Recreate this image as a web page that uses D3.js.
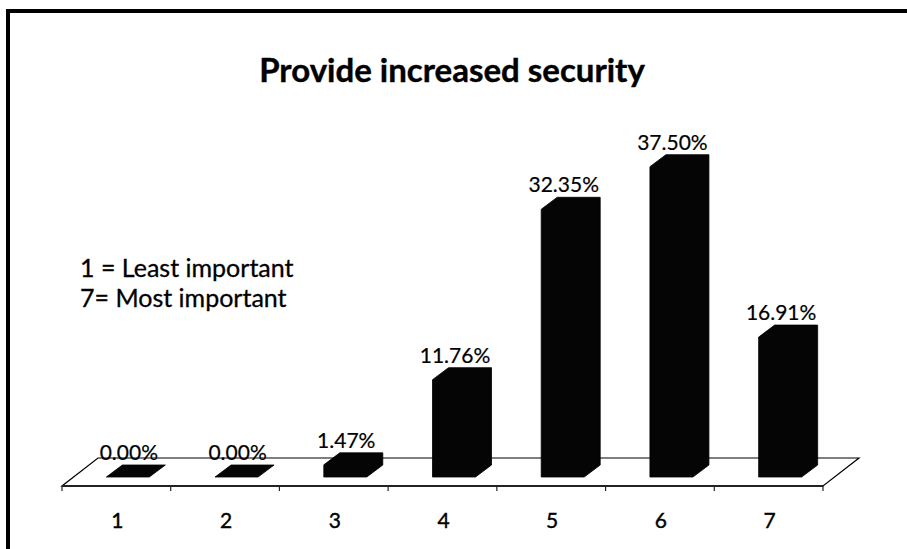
<!DOCTYPE html>
<html>
<head>
<meta charset="utf-8">
<script src="https://cdn.jsdelivr.net/npm/d3@7"></script>
<style>
  html, body { margin: 0; padding: 0; background: #fff; }
  svg { display: block; }
</style>
</head>
<body>
<svg id="chart" width="907" height="549"></svg>
<script>
// ---- data ----
const categories = ["1", "2", "3", "4", "5", "6", "7"];
const values = [0.00, 0.00, 1.47, 11.76, 32.35, 37.50, 16.91];
const valueLabels = ["0.00%", "0.00%", "1.47%", "11.76%", "32.35%", "37.50%", "16.91%"];
const titleText = "Provide increased security";
const noteLines = ["1 = Least important", "7= Most important"];

const svg = d3.select("#chart");
const FONT = "Lato, 'Open Sans', sans-serif";

// frame (left and top edges visible in the scan)
svg.append("rect")
  .attr("x", 8).attr("y", 11).attr("width", 960).attr("height", 600)
  .attr("fill", "none").attr("stroke", "#000").attr("stroke-width", 4);

// title
svg.append("text")
  .attr("x", 452).attr("y", 82)
  .attr("text-anchor", "middle")
  .attr("font-family", FONT).attr("font-weight", "bold")
  .attr("font-size", 33).attr("fill", "#000")
  .attr("stroke", "#000").attr("stroke-width", 0.4)
  .text(titleText);

// note
svg.selectAll("text.note").data(noteLines).enter().append("text")
  .attr("class", "note")
  .attr("x", 80).attr("y", (d, i) => 277 + i * 30)
  .attr("font-family", FONT).attr("font-size", 25).attr("fill", "#000")
  .attr("stroke", "#000").attr("stroke-width", 0.3)
  .text(d => d);

// scales
const floorFront = 486, floorBack = 458;
const floorDX = 36;
const x = d3.scaleBand().domain(categories).range([62, 823]).paddingInner(0).paddingOuter(0);
const barBase = 477;
const y = d3.scaleLinear().domain([0, 40]).range([barBase, barBase - 331]);
const bdx = 16, bdy = 12;
const barW = 43;

// floor
const floorPts = [
  [x.range()[0], floorFront], [x.range()[1], floorFront],
  [x.range()[1] + floorDX, floorBack], [x.range()[0] + floorDX, floorBack]
];
svg.append("polygon")
  .attr("points", floorPts.map(p => p.join(",")).join(" "))
  .attr("fill", "#fff").attr("stroke", "#000").attr("stroke-width", 1.2);

// axis with ticks at category boundaries
const tickPos = categories.map(c => x(c)).concat([x.range()[1]]);
svg.append("line")
  .attr("x1", x.range()[0]).attr("x2", x.range()[1])
  .attr("y1", floorFront).attr("y2", floorFront)
  .attr("stroke", "#222").attr("stroke-width", 2);
svg.selectAll("line.tick").data(tickPos).enter().append("line")
  .attr("class", "tick")
  .attr("x1", d => d).attr("x2", d => d)
  .attr("y1", floorFront).attr("y2", floorFront + 5)
  .attr("stroke", "#222").attr("stroke-width", 1.2);

svg.selectAll("text.cat").data(categories).enter().append("text")
  .attr("class", "cat")
  .attr("x", d => x(d) + x.bandwidth() / 2 + 1)
  .attr("y", 528)
  .attr("text-anchor", "middle")
  .attr("font-family", FONT).attr("font-size", 21).attr("fill", "#000")
  .attr("stroke", "#000").attr("stroke-width", 0.4)
  .text(d => d);

// bars (3D-look columns)
const bars = categories.map((c, i) => {
  const x0 = x(c) + x.bandwidth() / 2 - 10;
  const x1 = x0 + barW;
  const yt = y(values[i]);
  return { c, v: values[i], label: valueLabels[i], x0, x1, yt };
});

svg.selectAll("polygon.bar").data(bars).enter().append("polygon")
  .attr("class", "bar")
  .attr("points", d => [
    [d.x0, barBase], [d.x0, d.yt], [d.x0 + bdx, d.yt - bdy],
    [d.x1 + bdx, d.yt - bdy], [d.x1 + bdx, barBase - bdy], [d.x1, barBase]
  ].map(p => p.join(",")).join(" "))
  .attr("fill", "#050505").attr("stroke", "#000").attr("stroke-width", 0.8)
  .attr("stroke-linejoin", "round");

svg.selectAll("text.val").data(bars).enter().append("text")
  .attr("class", "val")
  .attr("x", d => (d.x0 + d.x1) / 2 + 1)
  .attr("y", d => d.yt - bdy - 5)
  .attr("text-anchor", "middle")
  .attr("font-family", FONT).attr("font-size", 21).attr("fill", "#000")
  .attr("stroke", "#000").attr("stroke-width", 0.2)
  .text(d => d.label);
</script>
</body>
</html>
